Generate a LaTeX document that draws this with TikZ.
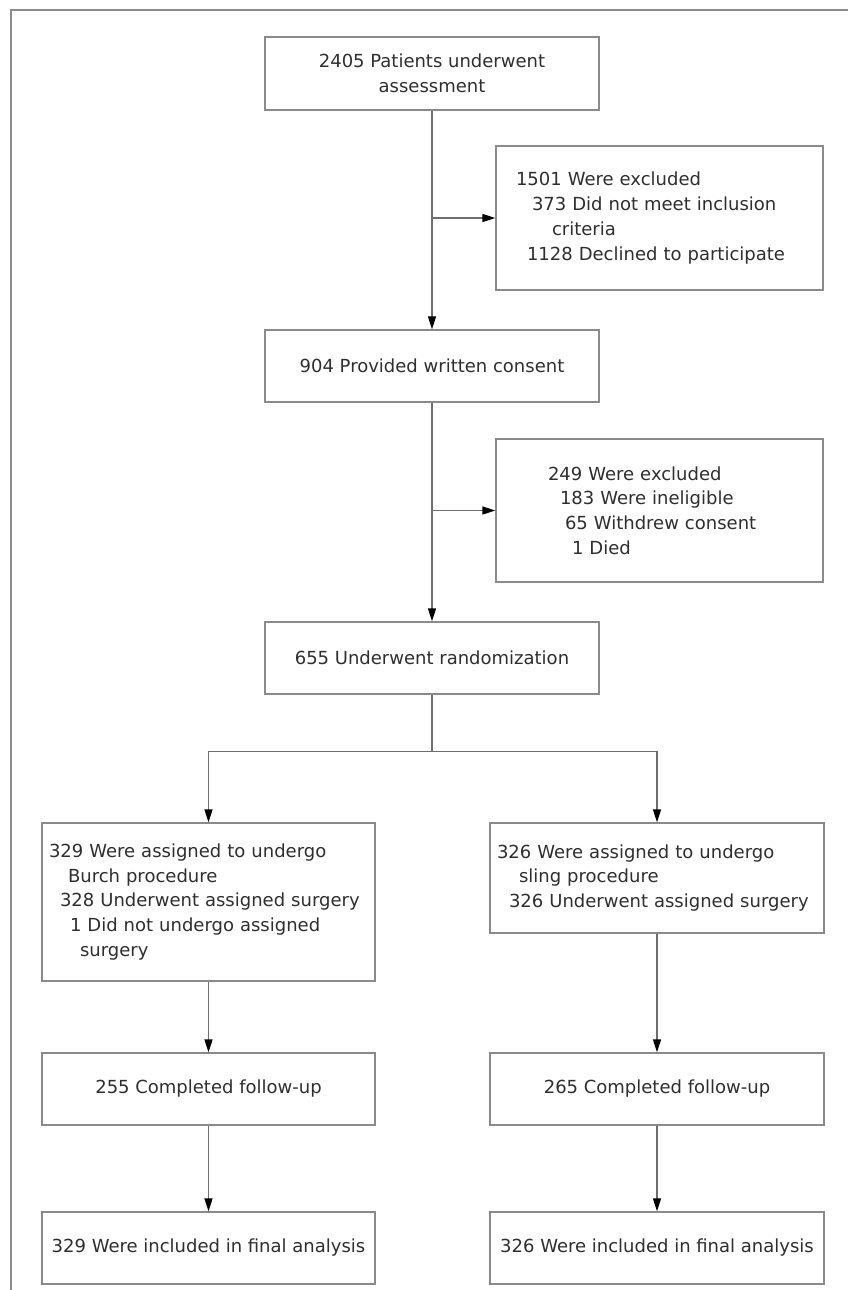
\documentclass[tikz,border=0pt]{standalone}
\usepackage{fontspec}
\setmainfont{DejaVu Sans}
\usepackage{xcolor}
\usepackage{tikz}
\usetikzlibrary{arrows.meta}
\definecolor{boxgray}{HTML}{8A8A8A}
\definecolor{linegray}{HTML}{6E6E6E}
\definecolor{textgray}{HTML}{2E2E2E}

\begin{document}
\begin{tikzpicture}[x=1pt, y=-1pt, >={Triangle[length=13pt, width=8pt, color=black]},
                    every node/.style={font=\fontsize{18}{24.8}\selectfont, text=textgray},
                    box/.style={draw=boxgray, line width=1.3pt, inner sep=0pt},
                    flow/.style={draw=linegray, line width=1.3pt}]
                    \useasboundingbox (0,0) rectangle (848,1290);
                    \draw[flow, draw=boxgray] (848,10) -- (11,10) -- (11,1290);

                    % Nodes
                    \node[box, minimum width=334pt, minimum height=73pt, align=center] (assess) at (432,73.5) {2405 Patients underwent\\assessment};
                    \node[box, minimum height=144pt, text width=287pt, inner xsep=20pt, align=left] (excl1) at (659.5,218) {1501 Were excluded\\\hspace*{16pt}373 Did not meet inclusion\\\hspace*{36pt}criteria\\\hspace*{11pt}1128 Declined to participate};
                    \node[box, minimum width=334pt, minimum height=72pt] (consent) at (432,366) {904 Provided written consent};
                    \node[box, minimum height=143pt, text width=223pt, inner xsep=52pt, align=left] (excl2) at (659.5,510.5) {249 Were excluded\\\hspace*{12pt}183 Were ineligible\\\hspace*{17pt}65 Withdrew consent\\\hspace*{24pt}1 Died};
                    \node[box, minimum width=334pt, minimum height=72pt] (random) at (432,658) {655 Underwent randomization};

                    \node[box, minimum height=158pt, text width=319pt, inner xsep=7pt, align=left] (burch) at (208.5,902) {329 Were assigned to undergo\\\hspace*{19pt}Burch procedure\\\hspace*{11pt}328 Underwent assigned surgery\\\hspace*{21pt}1 Did not undergo assigned\\\hspace*{31pt}surgery};
                    \node[box, minimum height=110pt, text width=320pt, inner xsep=7pt, align=left] (sling) at (657,878) {326 Were assigned to undergo\\\hspace*{22pt}sling procedure\\\hspace*{12pt}326 Underwent assigned surgery};

                    \node[box, minimum width=333pt, minimum height=72pt] (burchfu) at (208.5,1089) {255 Completed follow-up};
                    \node[box, minimum width=334pt, minimum height=72pt] (slingfu) at (657,1089) {265 Completed follow-up};
                    \node[box, minimum width=333pt, minimum height=72pt] (burchfinal) at (208.5,1248) {329 Were included in final analysis};
                    \node[box, minimum width=334pt, minimum height=72pt] (slingfinal) at (657,1248) {326 Were included in final analysis};

                    % Edges
                    \draw[flow, ->] (assess) -- (consent);
                    \draw[flow, ->] (assess.south |- excl1.west) -- (excl1.west);
                    \draw[flow, ->] (consent) -- (random);
                    \draw[flow, ->] (consent.south |- excl2.west) -- (excl2.west);

                    \draw[flow] (random.south) -- ++(0,57) coordinate (split);
                    \draw[flow, ->] (split) -| (burch.north);
                    \draw[flow, ->] (split) -| (sling.north);

                    \draw[flow, ->] (burch) -- (burchfu);
                    \draw[flow, ->] (burchfu) -- (burchfinal);
                    \draw[flow, ->] (sling) -- (slingfu);
                    \draw[flow, ->] (slingfu) -- (slingfinal);
                \end{tikzpicture}
\end{document}
